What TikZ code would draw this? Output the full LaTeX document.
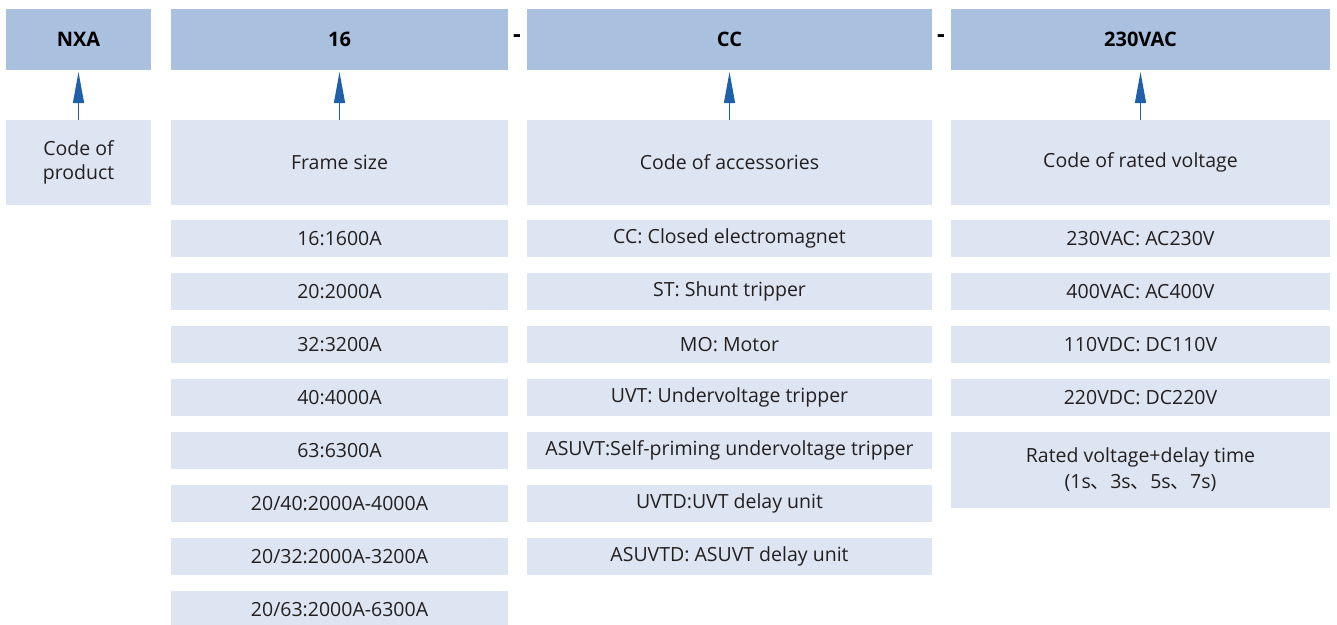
\documentclass[tikz,border=0pt]{standalone}
\usepackage{fontspec}
\setmainfont{Open Sans}
\newfontfamily\cjk{Noto Sans CJK SC}
\usetikzlibrary{arrows.meta}

\definecolor{headblue}{RGB}{170,192,223}
\definecolor{descblue}{RGB}{222,229,242}
\definecolor{arrowblue}{RGB}{32,96,168}
\definecolor{txt}{RGB}{35,31,32}

\tikzset{
	codebox/.style={fill=headblue, text=black, font=\fontsize{20}{24}\selectfont\bfseries,
		minimum height=61pt, inner sep=0pt, outer sep=0pt, anchor=north west},
	descbox/.style={fill=descblue, text=txt, font=\fontsize{19.5}{24.5}\selectfont, align=center,
		minimum height=85pt, inner sep=0pt, outer sep=0pt, anchor=north west},
	itembox/.style={fill=descblue, text=txt, font=\fontsize{19.5}{26}\selectfont, align=center,
		minimum height=37pt, inner sep=0pt, outer sep=0pt, anchor=north west},
	uparrow/.style={draw=arrowblue, line width=1.2pt, -{Triangle[length=31pt,width=11pt]}, shorten >=2pt},
	sep/.style={font=\fontsize{24}{24}\selectfont\bfseries, inner sep=0pt}
}

\begin{document}
\begin{tikzpicture}[x=1pt,y=-1pt]
	\useasboundingbox (0,0) rectangle (1337,624);

	% Code line
	\node[codebox, minimum width=145pt] (hNXA) at (6,9) {NXA};
	\node[codebox, minimum width=337pt] (hframe) at (171,9) {16};
	\node[codebox, minimum width=405pt] (hacc) at (527,9) {CC};
	\node[codebox, minimum width=379pt] (hvolt) at (951,9) {230VAC};
	\node[sep] (dashA) at (517,39) {-};
	\node[sep] (dashB) at (941,39) {-};

	% Meaning of each code
	\node[descbox, minimum width=145pt] (dNXA) at (6,120) {Code of\\product};
	\node[descbox, minimum width=337pt] (dframe) at (171,120) {Frame size};
	\node[descbox, minimum width=405pt] (dacc) at (527,120) {Code of accessories};
	\node[descbox, minimum width=379pt] (dvolt) at (951,120) {Code of rated voltage};

	\draw[uparrow] (dNXA) -- (hNXA);
	\draw[uparrow] (dframe) -- (hframe);
	\draw[uparrow] (dacc) -- (hacc);
	\draw[uparrow] (dvolt) -- (hvolt);

	% Frame sizes
	\foreach \t [count=\i from 0] in {16:1600A, 20:2000A, 32:3200A, 40:4000A, 63:6300A,
		20/40:2000A-4000A, 20/32:2000A-3200A, 20/63:2000A-6300A}
		\node[itembox, minimum width=337pt] (frame\i) at (171,220+53*\i) {\t};

	% Accessories
	\foreach \t [count=\i from 0] in {CC: Closed electromagnet, ST: Shunt tripper, MO: Motor,
		UVT: Undervoltage tripper, ASUVT:Self-priming undervoltage tripper,
		UVTD:UVT delay unit, ASUVTD: ASUVT delay unit}
		\node[itembox, minimum width=405pt] (acc\i) at (527,220+53*\i) {\t};

	% Rated voltages
	\foreach \t [count=\i from 0] in {230VAC: AC230V, 400VAC: AC400V, 110VDC: DC110V, 220VDC: DC220V}
		\node[itembox, minimum width=379pt] (volt\i) at (951,220+53*\i) {\t};
	\node[itembox, minimum width=379pt, minimum height=76pt] (volt4) at (951,432)
		{Rated voltage+delay time\\(1s{\cjk 、}3s{\cjk 、}5s{\cjk 、}7s)};
\end{tikzpicture}
\end{document}
